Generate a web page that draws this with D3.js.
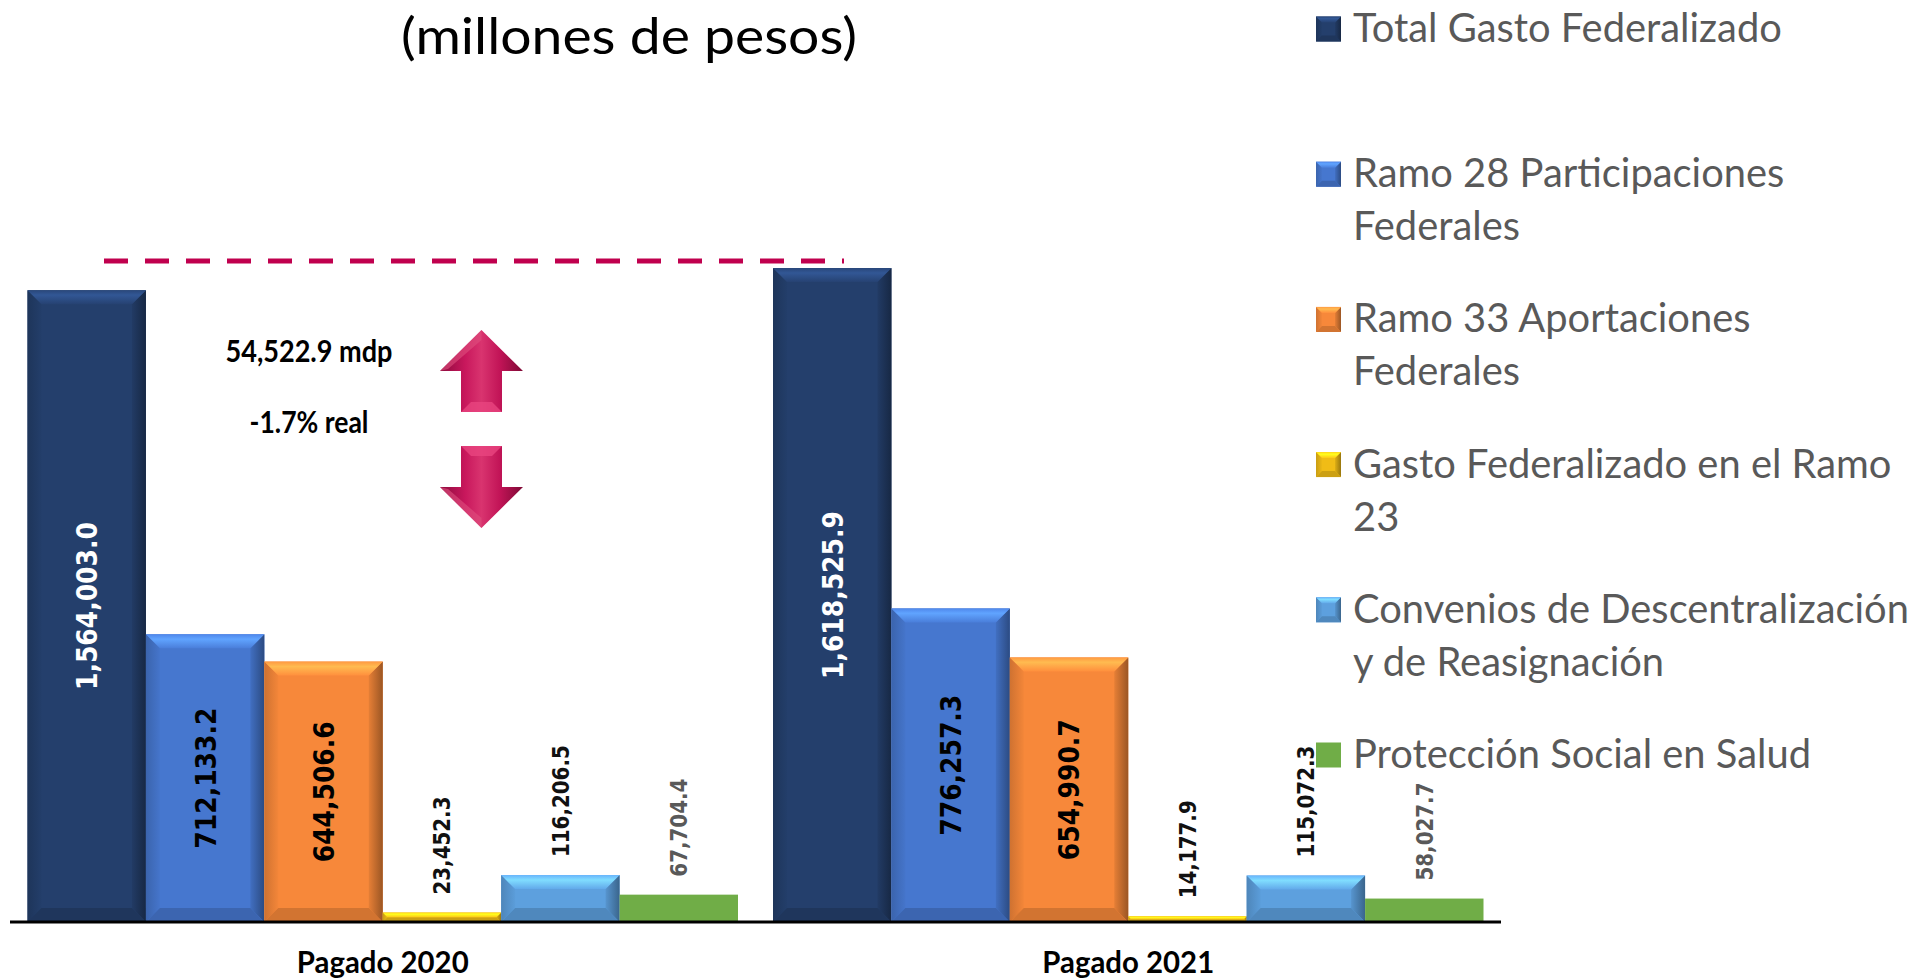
<!DOCTYPE html>
<html><head><meta charset="utf-8">
<script src="https://cdn.jsdelivr.net/npm/d3@7"></script>
<style>html,body{margin:0;padding:0;background:#fff;overflow:hidden}</style>
</head><body>
<svg id="chart" width="1919" height="979"></svg>
<script>
// ---------------- data ----------------
const categories = ["Pagado 2020", "Pagado 2021"];
const seriesNames = [
  "Total Gasto Federalizado",
  "Ramo 28 Participaciones Federales",
  "Ramo 33 Aportaciones Federales",
  "Gasto Federalizado en el Ramo 23",
  "Convenios de Descentralización y de Reasignación",
  "Protección Social en Salud"
];
const legendLines = [
  ["Total Gasto Federalizado"],
  ["Ramo 28 Participaciones", "Federales"],
  ["Ramo 33 Aportaciones", "Federales"],
  ["Gasto Federalizado en el Ramo", "23"],
  ["Convenios de Descentralización", "y de Reasignación"],
  ["Protección Social en Salud"]
];
const values2020 = [1564003.0, 712133.2, 644506.6, 23452.3, 116206.5, 67704.4];
const values2021 = [1618525.9, 776257.3, 654990.7, 14177.9, 115072.3, 58027.7];
const seriesColors = ["#243f6c", "#4677cf", "#f7883a", "#f0bc16", "#5da0de", "#70ad47"];
const labelColors = ["#ffffff", "#000000", "#000000", "#111111", "#111111", "#595959"];
const titleText = "(millones de pesos)";
const realChangeText = "-1.7% real";

// ---------------- setup ----------------
const svg = d3.select("#chart");
const defs = svg.append("defs");
const table = categories.map((c, i) => ({cat: c, vals: [values2020, values2021][i]}));

const x0 = d3.scaleBand().domain(categories).range([10, 1501]).paddingInner(0).paddingOuter(0);
const x1 = d3.scaleBand().domain(d3.range(seriesNames.length)).range([17.5, x0.bandwidth() - 17.5]);
const y = d3.scaleLinear().domain([0, 2000000]).range([922, 114]);
const fmt = d3.format(",.1f");

// gradients per series
seriesColors.forEach((c, i) => {
  const base = d3.color(c);
  const gt = defs.append("linearGradient").attr("id", "top" + i).attr("x1", 0).attr("y1", 0).attr("x2", 0).attr("y2", 1);
  gt.append("stop").attr("offset", "0%").attr("stop-color", base.brighter(0.35));
  gt.append("stop").attr("offset", "35%").attr("stop-color", base.brighter(0.9));
  gt.append("stop").attr("offset", "100%").attr("stop-color", base.brighter(0.15));
  const gr = defs.append("linearGradient").attr("id", "right" + i).attr("x1", 0).attr("y1", 0).attr("x2", 1).attr("y2", 0);
  gr.append("stop").attr("offset", "0%").attr("stop-color", base.darker(0.2));
  gr.append("stop").attr("offset", "100%").attr("stop-color", base.darker(1.3));
  const gl = defs.append("linearGradient").attr("id", "left" + i).attr("x1", 0).attr("y1", 0).attr("x2", 1).attr("y2", 0);
  gl.append("stop").attr("offset", "0%").attr("stop-color", base.darker(0.5));
  gl.append("stop").attr("offset", "100%").attr("stop-color", base.darker(0.05));
});
const ag = defs.append("linearGradient").attr("id", "arrowGrad").attr("x1", 0).attr("y1", 0).attr("x2", 1).attr("y2", 0);
[["0%", "#8c0b3d"], ["30%", "#c8175c"], ["50%", "#d9346f"], ["72%", "#c21457"], ["100%", "#7e0935"]]
  .forEach(s => ag.append("stop").attr("offset", s[0]).attr("stop-color", s[1]));

function bevelRect(g, x, yTop, w, h, i, maxB) {
  const c = d3.color(seriesColors[i]);
  g.append("rect").attr("x", x).attr("y", yTop).attr("width", w).attr("height", h).attr("fill", c);
  if (i === 5) return; // flat green
  const b = Math.min(maxB, h / 2, w / 2);
  const pts = a => a.map(p => p.join(",")).join(" ");
  g.append("polygon").attr("points", pts([[x, yTop], [x + b, yTop + b], [x + b, yTop + h - b], [x, yTop + h]])).attr("fill", `url(#left${i})`);
  g.append("polygon").attr("points", pts([[x + w, yTop], [x + w - b, yTop + b], [x + w - b, yTop + h - b], [x + w, yTop + h]])).attr("fill", `url(#right${i})`);
  g.append("polygon").attr("points", pts([[x, yTop + h], [x + b, yTop + h - b], [x + w - b, yTop + h - b], [x + w, yTop + h]])).attr("fill", c.darker(0.45));
  g.append("polygon").attr("points", pts([[x, yTop], [x + w, yTop], [x + w - b, yTop + b], [x + b, yTop + b]])).attr("fill", `url(#top${i})`);
}

function fitText(sel, target) {
  const w = sel.node().getComputedTextLength();
  return target / w;
}

// ---------------- bars ----------------
const groups = svg.append("g").selectAll("g.cat").data(table).join("g")
  .attr("class", "cat").attr("transform", d => `translate(${x0(d.cat)},0)`);

groups.each(function (d) {
  const g = d3.select(this);
  d.vals.forEach((v, i) => {
    bevelRect(g, x1(i), y(v), x1.bandwidth(), y(0) - y(v), i, 14);
  });
});

// axis line
svg.append("line").attr("x1", x0.range()[0]).attr("x2", x0.range()[1]).attr("y1", y(0)).attr("y2", y(0))
  .attr("stroke", "#000").attr("stroke-width", 3);

// category labels
categories.forEach(c => {
  const g = svg.append("g");
  const t = g.append("text").text(c).attr("text-anchor", "middle")
    .attr("font-family", "Lato, 'Open Sans', sans-serif").attr("font-weight", "bold").attr("font-size", 31).attr("fill", "#000");
  const s = fitText(t, 172);
  g.attr("transform", `translate(${x0(c) + x0.bandwidth() / 2},973) scale(${s},1)`);
});

// data labels
let labelScale = null;
table.forEach(d => {
  d.vals.forEach((v, i) => {
    const cx = x0(d.cat) + x1(i) + x1.bandwidth() / 2;
    const inside = i < 3;
    const yy = inside ? (y(v) + y(0)) / 2 : y(v) - 18;
    const g = svg.append("g");
    const t = g.append("text").text(fmt(v))
      .attr("text-anchor", inside ? "middle" : "start")
      .attr("dy", "0.36em")
      .attr("font-family", "'DejaVu Sans', Verdana, sans-serif").attr("font-weight", "bold")
      .attr("font-size", inside ? 29 : 23).attr("fill", labelColors[i]);
    if (labelScale === null) labelScale = fitText(t, 168);
    g.attr("transform", `translate(${cx},${yy}) rotate(-90) scale(${labelScale},1)`);
  });
});

// ---------------- annotations ----------------
const maxTotal = d3.max(table, d => d.vals[0]);
svg.append("line").attr("x1", 104).attr("x2", 844).attr("y1", y(maxTotal) - 7).attr("y2", y(maxTotal) - 7)
  .attr("stroke", "#c0004e").attr("stroke-width", 5).attr("stroke-dasharray", "24 17");

const diff = values2021[0] - values2020[0];
[[fmt(diff) + " mdp", 167, 362], [realChangeText, 119, 433]].forEach(([txt, w, by]) => {
  const g = svg.append("g");
  const t = g.append("text").text(txt).attr("text-anchor", "middle")
    .attr("font-family", "Lato, 'Open Sans', sans-serif").attr("font-weight", "bold").attr("font-size", 30).attr("fill", "#000");
  const s = fitText(t, w);
  g.attr("transform", `translate(309,${by}) scale(${s},1)`);
});

function arrow(cx, top, bottom, up) {
  const hw = 41.5, sw = 20.5, headH = 41;
  let p;
  if (up) {
    p = [[cx, top], [cx + hw, top + headH], [cx + sw, top + headH], [cx + sw, bottom], [cx - sw, bottom], [cx - sw, top + headH], [cx - hw, top + headH]];
  } else {
    p = [[cx - sw, top], [cx + sw, top], [cx + sw, bottom - headH], [cx + hw, bottom - headH], [cx, bottom], [cx - hw, bottom - headH], [cx - sw, bottom - headH]];
  }
  const g = svg.append("g");
  g.append("polygon").attr("points", p.map(q => q.join(",")).join(" ")).attr("fill", "url(#arrowGrad)");
  const b = 10;
  if (up) {
    g.append("polygon").attr("points", [[cx - sw, bottom], [cx - sw + b, bottom - b], [cx + sw - b, bottom - b], [cx + sw, bottom]].map(q => q.join(",")).join(" "))
      .attr("fill", "#e8457f").attr("opacity", 0.8);
    g.append("polygon").attr("points", [[cx, top], [cx - hw, top + headH], [cx - hw + 8, top + headH - 2], [cx, top + 10]].map(q => q.join(",")).join(" "))
      .attr("fill", "#e0507f").attr("opacity", 0.6);
  } else {
    g.append("polygon").attr("points", [[cx - sw, top], [cx - sw + b, top + b], [cx + sw - b, top + b], [cx + sw, top]].map(q => q.join(",")).join(" "))
      .attr("fill", "#e8457f").attr("opacity", 0.8);
    g.append("polygon").attr("points", [[cx, bottom], [cx - hw, bottom - headH], [cx - hw + 8, bottom - headH + 2], [cx, bottom - 10]].map(q => q.join(",")).join(" "))
      .attr("fill", "#e0507f").attr("opacity", 0.6);
  }
}
arrow(481.5, 330, 412, true);
arrow(481.5, 446, 528, false);

// ---------------- title ----------------
{
  const g = svg.append("g");
  const t = g.append("text").text(titleText).attr("text-anchor", "middle")
    .attr("font-family", "Lato, 'Open Sans', sans-serif").attr("font-size", 50).attr("fill", "#000");
  const s = fitText(t, 456);
  g.attr("transform", `translate(629,54) scale(${s},1)`);
}

// ---------------- legend ----------------
const legend = svg.append("g");
const probe = legend.append("text").text(legendLines[4][0])
  .attr("font-family", "Lato, 'Open Sans', sans-serif").attr("font-size", 40);
const legScale = fitText(probe, 556);
probe.remove();
legendLines.forEach((lines, i) => {
  const cy = 29 + i * 145.2;
  const mg = legend.append("g");
  bevelRect(mg, 1316, cy - 12.5, 25, 25, i, 6);
  lines.forEach((ln, j) => {
    const g = legend.append("g");
    g.append("text").text(ln)
      .attr("font-family", "Lato, 'Open Sans', sans-serif").attr("font-size", 40).attr("fill", "#595959");
    g.attr("transform", `translate(1353,${cy + 13 + j * 53}) scale(${legScale},1)`);
  });
});
</script>
</body></html>
